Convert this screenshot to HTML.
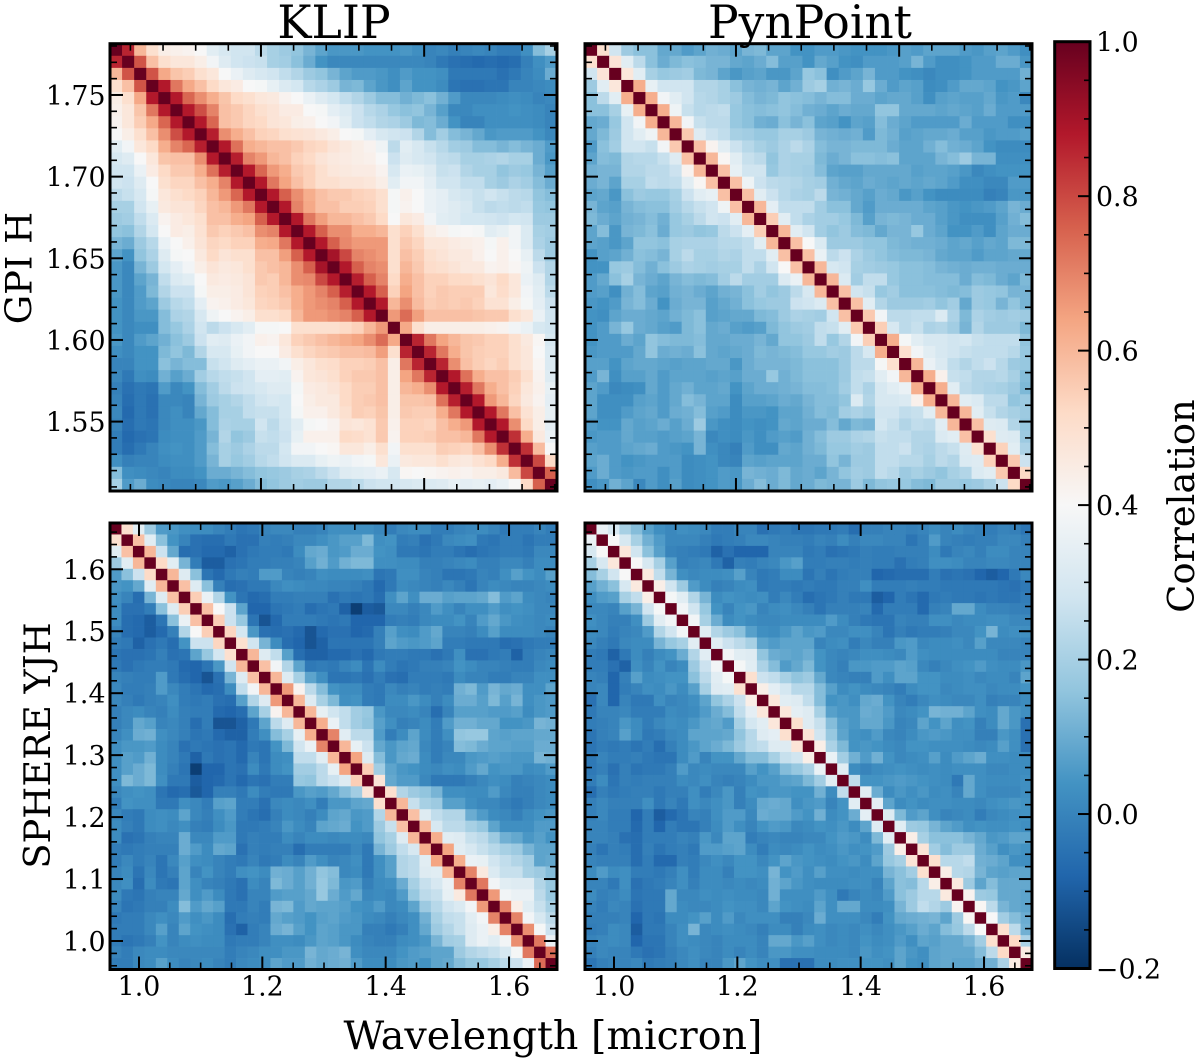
<!DOCTYPE html>
<html lang="en">
<head>
<meta charset="utf-8">
<title>Correlation matrices</title>
<style>
html,body{margin:0;padding:0;background:#fff;width:1200px;height:1063px;overflow:hidden}
svg{display:block;position:absolute;left:0;top:0}
text{font-family:"DejaVu Serif","Liberation Serif",serif;fill:#000}
.tick-label{font-size:26.8px}
</style>
</head>
<body>
<svg id="figure" xmlns="http://www.w3.org/2000/svg" width="1200" height="1063" viewBox="0 0 1200 1063">
  <defs>
    <linearGradient id="colorbar-gradient" x1="0" y1="1" x2="0" y2="0"></linearGradient>
  </defs>
  <g id="panels"></g>
  <g id="colorbar"></g>
  <text x="334" y="38" font-size="45.7" text-anchor="middle">KLIP</text>
  <text x="810" y="38" font-size="45.5" text-anchor="middle">PynPoint</text>
  <text transform="translate(31.5,268) rotate(-90)" font-size="36.8" text-anchor="middle">GPI H</text>
  <text transform="translate(50,745.5) rotate(-90)" font-size="36.8" text-anchor="middle">SPHERE YJH</text>
  <text x="553" y="1049" font-size="39.6" text-anchor="middle">Wavelength [micron]</text>
  <text transform="translate(1194,506) rotate(-90)" font-size="36.8" text-anchor="middle">Correlation</text>
</svg>
<script>
// Upper triangles (row i holds columns i..n-1), correlation x 100.
const klipGpi = [
[100,86,60,50,44,43,42,40,33,30,28,28,24,20,18,16,12,8,5,5,5,4,4,4,5,3,0,1,-1,0,1,0,-2,-2,3,14,20],
[100,78,58,50,47,47,44,38,32,28,27,26,20,19,15,10,4,1,1,1,1,1,1,1,1,0,-3,-5,-6,-7,-6,-7,-6,-1,3,6,16],
[100,78,63,57,55,50,47,40,36,32,30,28,25,22,18,16,12,8,6,6,5,3,6,4,4,3,-3,-3,-3,-3,-5,-3,0,2,10],
[100,88,72,63,58,52,47,45,40,39,35,31,29,23,21,18,12,13,8,5,3,8,4,4,2,-4,-5,-5,-4,-4,0,0,1,2],
[100,88,75,68,62,57,52,50,47,46,42,40,36,32,29,25,22,18,14,14,11,13,15,11,6,1,1,1,2,3,2,0,1],
[100,88,79,70,58,56,53,50,48,45,45,40,39,34,31,27,23,21,17,15,16,12,7,1,1,3,3,3,4,3,2,0],
[100,88,75,58,56,53,52,48,47,44,43,40,38,33,27,25,22,21,18,13,14,10,4,0,0,3,3,3,3,2,0],
[100,87,68,62,58,54,53,50,49,48,46,44,40,39,34,30,28,27,22,14,19,14,12,9,5,6,6,6,4,1],
[100,88,73,62,60,58,58,56,53,52,48,46,44,42,37,24,33,30,26,23,19,18,14,14,12,14,12,10,6],
[100,87,70,66,60,58,54,52,48,46,45,44,43,40,27,32,30,28,25,24,20,20,21,22,20,20,10,5],
[100,88,75,66,62,56,54,50,47,46,45,45,42,30,36,35,32,26,27,22,20,20,16,18,17,12,7],
[100,88,72,64,58,54,50,50,48,48,47,44,33,38,38,34,28,28,25,25,20,18,21,19,14,10],
[100,88,76,68,62,58,56,56,54,53,50,39,43,40,36,34,30,28,26,28,26,24,23,16,14],
[100,88,70,63,58,58,55,55,54,50,39,42,40,36,34,32,30,26,24,25,24,25,17,16],
[100,88,72,65,60,60,58,56,52,40,47,45,38,33,32,29,29,28,27,29,28,18,18],
[100,88,76,68,68,62,62,60,50,54,50,44,42,39,40,39,33,35,38,31,20,19],
[100,88,76,69,66,66,66,50,56,53,47,47,45,44,43,39,43,38,31,21,18],
[100,90,80,70,68,66,50,58,55,50,48,46,46,43,40,43,40,35,24,18],
[100,88,76,70,68,50,60,56,51,50,48,46,46,42,43,41,37,27,22],
[100,87,76,70,52,62,58,54,54,52,52,50,48,52,47,36,32,22],
[100,88,76,54,64,58,54,56,55,55,55,47,51,47,38,33,24],
[100,88,60,68,59,55,56,55,56,54,49,49,44,39,34,27],
[100,66,74,65,58,58,58,58,57,56,56,50,47,36,28],
[100,63,50,44,44,44,44,44,43,42,38,36,30,28],
[100,86,72,64,60,57,56,54,54,50,46,41,30],
[100,86,72,62,57,55,54,54,50,47,40,31],
[100,86,68,58,55,53,55,50,47,41,31],
[100,88,73,62,58,58,55,50,42,32],
[100,87,72,62,58,54,47,43,35],
[100,88,66,60,53,46,42,34],
[100,88,72,58,49,44,35],
[100,88,68,52,44,34],
[100,84,62,46,36],
[100,84,59,40],
[100,80,52],
[100,76],
[100]
];
const pynGpi = [
[100,50,28,18,15,15,9,9,6,8,11,10,8,12,13,8,8,4,4,6,6,5,4,4,4,5,7,6,8,8,8,6,5,7,8,6,3],
[100,48,33,24,15,10,13,15,14,12,12,9,8,10,14,7,7,4,9,7,4,3,6,6,6,7,12,6,3,3,4,6,6,10,10,5],
[100,47,33,20,17,18,19,13,12,8,5,7,8,5,5,8,17,15,3,6,8,12,6,6,4,3,1,3,3,4,6,6,6,6,11],
[100,62,35,28,28,28,22,22,20,15,12,11,12,8,11,18,20,11,12,10,17,10,6,8,7,2,3,6,9,9,8,4,5,8],
[100,62,38,33,28,23,22,20,18,14,12,13,16,15,14,12,14,14,10,10,8,9,9,7,3,7,8,7,7,9,5,6,1],
[100,62,37,26,23,24,25,17,15,14,15,16,14,11,10,8,10,9,9,16,16,9,9,9,8,9,8,7,10,6,6,6],
[100,60,38,26,24,24,17,15,11,10,15,12,15,8,7,4,8,7,14,10,8,6,6,6,6,10,6,6,6,3,3],
[100,56,32,27,25,20,19,17,17,20,20,18,12,11,10,11,6,13,11,7,8,9,9,10,7,7,5,6,6,7],
[100,58,42,33,27,23,20,18,21,24,21,14,12,12,13,13,13,10,8,8,11,14,11,10,8,4,2,2,2],
[100,60,41,33,26,24,16,21,20,20,13,10,12,15,15,14,15,8,8,8,12,14,18,12,12,3,3,3],
[100,58,35,28,28,17,21,20,19,14,8,7,7,9,9,9,9,7,8,8,7,5,1,3,4,4,4],
[100,58,37,27,24,23,22,20,19,11,9,8,10,9,8,9,8,9,8,6,3,3,1,1,6,6],
[100,58,33,27,23,21,20,24,12,11,9,7,10,9,5,7,4,2,2,2,2,-1,0,5,5],
[100,60,34,25,25,25,19,15,15,9,6,10,10,10,10,8,7,5,4,5,6,8,12,10],
[100,55,33,25,21,19,19,17,13,7,12,13,12,10,10,7,5,3,3,3,7,11,14],
[100,60,33,28,19,16,18,14,13,9,12,12,17,10,8,4,4,6,3,8,10,10],
[100,58,40,31,18,18,18,16,16,13,12,11,11,10,8,9,7,9,8,13,13],
[100,58,36,24,27,21,18,16,14,13,13,12,9,8,8,6,8,8,9,9],
[100,60,30,28,20,19,18,17,15,15,14,12,11,10,11,11,10,10,10],
[100,60,31,19,25,25,17,15,15,14,14,14,10,14,13,10,8,13],
[100,58,28,26,17,19,15,15,15,14,13,14,18,17,16,12,12],
[100,58,33,22,18,18,18,19,16,19,9,18,17,12,16,12],
[100,56,38,24,24,25,25,31,21,13,21,19,18,19,18],
[100,55,30,24,26,21,22,19,12,22,18,18,18,13],
[100,62,39,33,30,30,28,29,26,25,25,25,16],
[100,50,38,33,30,28,26,25,25,25,23,17],
[100,60,36,31,25,22,25,27,23,18,17],
[100,62,43,26,25,22,22,23,20,14],
[100,62,33,24,22,21,20,18,13],
[100,60,33,31,24,24,16,18],
[100,60,33,26,22,20,18],
[100,58,32,31,22,17],
[100,50,32,31,18],
[100,54,33,21],
[100,56,27],
[100,52],
[100]
];
const klipSphere = [
[100,50,33,18,6,5,3,2,2,0,-2,-4,-3,0,1,1,-1,-1,0,3,3,3,3,1,-2,1,2,2,-2,-2,0,1,2,0,-3,-2,-2,0,-2],
[100,58,33,15,4,0,-5,-6,-6,-3,-5,-5,-1,-2,-1,1,1,3,5,7,7,13,3,4,-2,-1,-5,-3,1,2,3,-3,-4,-2,-2,-4,-2,-2],
[100,60,27,9,-6,-5,-7,-7,-9,-5,-3,-2,-2,-3,2,9,10,5,6,10,10,4,3,-3,-3,-4,-2,-2,-4,-6,-4,-3,-2,-2,-3,1,1],
[100,52,33,12,-2,-10,-10,-5,-4,-2,-2,-1,-1,0,7,11,6,11,13,13,3,3,2,2,-1,-1,0,1,2,-1,-1,1,1,-1,2,2],
[100,60,32,15,-4,-7,-3,-1,-2,6,6,0,-1,0,3,2,2,2,3,-4,-3,3,3,0,-1,-4,-4,-3,0,-1,3,7,4,2,7],
[100,58,32,15,-1,-6,-5,-3,-3,1,3,2,1,1,0,0,-1,-3,-7,-3,2,1,0,-1,1,-1,-4,0,2,1,0,0,1,2],
[100,55,36,22,4,-4,-7,-6,-2,-2,-1,-1,-1,-5,-3,-4,-3,-6,3,8,3,10,10,7,8,8,9,14,6,8,2,1,0],
[100,58,40,27,8,-8,-8,-4,-3,-2,-6,-4,-3,-9,-17,-10,-11,1,1,-1,1,6,3,0,3,3,6,3,4,3,1,1],
[100,55,27,17,-4,-12,-7,-2,-2,-2,-3,-4,-3,-8,-8,-8,-2,-1,-2,1,2,2,4,0,6,9,5,3,2,1,2],
[100,53,29,5,-5,-6,-5,-7,-12,-7,-5,-5,-8,-7,-1,7,3,2,6,9,0,0,-1,2,7,2,2,2,1,0],
[100,50,28,12,2,-6,-8,-12,-9,-4,-4,-4,-4,-1,8,6,5,6,8,-2,-2,-3,-3,-3,-6,-5,-3,-2,-2],
[100,60,32,25,7,-6,-9,-9,-7,-7,-5,-7,-3,-2,-2,-3,-3,-5,-3,3,-5,-5,-3,-2,-9,-2,0,1],
[100,58,38,22,8,-3,-2,-3,0,2,-4,2,-2,-4,-3,-1,-1,0,4,2,0,0,-1,-2,-2,1,2],
[100,60,32,20,8,3,-4,-4,-3,-5,-2,-5,-6,-2,-2,-2,-3,2,0,0,-2,-2,0,0,3,3],
[100,66,42,24,14,4,2,2,-2,-3,1,-1,0,-2,-1,-2,11,13,6,12,9,10,3,3,8],
[100,60,32,20,13,3,4,-2,-3,2,2,5,2,-1,2,10,10,7,13,7,12,3,5,6],
[100,60,35,28,25,19,17,5,1,1,2,0,-6,0,7,7,7,6,6,7,2,5,6],
[100,62,36,25,19,16,7,3,-1,0,2,-2,6,11,11,9,9,4,4,5,12,11],
[100,70,33,24,24,6,-2,2,8,2,-2,3,16,17,17,8,7,8,8,9,9],
[100,60,35,27,9,5,8,9,1,-2,0,14,13,10,8,8,7,7,10,10],
[100,64,32,14,5,9,10,2,-2,1,1,5,6,7,6,5,5,12,11],
[100,55,19,8,5,4,2,1,3,2,6,9,4,5,5,2,3,6],
[100,48,9,6,6,1,-3,-3,-3,-1,1,3,2,-1,0,1,2],
[100,50,22,18,16,12,3,3,2,2,6,1,-1,-1,1,2],
[100,60,26,20,18,7,7,3,1,1,-1,-3,-1,1,2],
[100,58,32,25,22,22,10,6,2,1,-1,2,4,5],
[100,60,30,24,24,20,17,8,3,3,3,6,6],
[100,62,33,32,26,24,18,11,9,5,7,4],
[100,64,33,30,26,23,20,18,12,8,8],
[100,62,36,35,28,25,22,19,8,9],
[100,70,46,31,26,26,20,18,14],
[100,72,38,33,32,32,22,17],
[100,66,38,36,36,24,17],
[100,70,44,33,26,20],
[100,70,38,30,24],
[100,68,39,27],
[100,72,36],
[100,74],
[100]
];
const pynSphere = [
[100,36,30,20,14,7,3,1,3,2,1,-2,-2,0,0,-5,-3,-2,-4,-4,-3,-3,-2,-6,-1,-1,0,0,-1,0,2,0,2,0,-1,-2,0,-1,-4],
[100,40,30,20,11,6,1,1,1,-1,-3,-2,-1,1,1,0,-1,-1,-2,0,-1,2,-1,1,1,0,0,-4,-1,6,0,-1,-2,-1,-1,1,1,-1],
[100,47,28,15,7,0,-1,-2,-3,-9,-5,-8,-8,-8,0,0,0,-3,-2,-5,-4,-3,-1,-2,-2,-1,-1,-1,2,-3,0,1,-1,2,2,0,0],
[100,40,30,20,7,-1,0,1,-3,-9,-1,-2,0,1,5,7,-2,-2,-1,-1,-2,-1,-2,-2,-5,-2,-1,3,3,2,0,0,1,1,0,0],
[100,46,25,12,3,1,2,2,3,7,0,-3,-2,2,2,-4,-1,-4,-2,-1,-1,-8,-7,-6,-6,-6,-2,-5,-4,-5,-8,-10,-8,-3,1],
[100,44,28,18,6,2,-1,0,2,3,-3,-2,-2,-3,-2,-3,-3,-1,-1,3,-2,-2,-2,-1,-2,-2,-3,-3,-3,-3,-3,-4,-5,-3],
[100,39,33,22,12,2,4,3,2,3,-2,1,-2,-6,-4,-3,-1,-3,-3,-10,-8,-2,-4,-7,-3,-2,-3,-3,-4,-3,-4,-4,-2],
[100,38,28,17,4,0,4,5,0,2,3,1,-1,-4,-1,-1,-1,0,-7,-2,-2,-2,-7,-1,0,9,9,2,0,0,-1,-1],
[100,38,20,10,2,4,2,1,1,2,2,2,2,6,2,-1,-3,-4,-4,0,-1,-1,3,3,1,2,2,3,3,1,1],
[100,33,22,18,15,7,3,2,5,8,5,6,1,1,3,3,0,-4,-1,-3,-2,-2,-1,1,1,4,12,2,3,3],
[100,33,27,24,20,8,6,8,8,8,0,2,3,-2,1,-1,-1,5,6,1,2,2,3,1,7,1,1,1,0],
[100,38,33,32,16,10,9,8,10,4,1,0,1,3,3,2,1,6,3,2,2,2,2,2,2,0,0,0],
[100,39,33,21,14,6,9,13,4,1,-1,5,5,6,6,8,7,1,-1,1,3,4,6,3,2,2,5],
[100,50,27,25,20,16,18,9,1,0,-1,-1,6,3,8,8,4,4,2,2,3,1,2,2,0,8],
[100,44,34,29,23,23,14,7,2,4,2,1,0,-2,2,4,4,1,2,3,3,1,2,2,4],
[100,47,33,32,25,14,4,5,3,9,10,4,0,-2,1,3,2,1,1,3,-1,0,0,2],
[100,47,34,32,20,7,5,5,10,9,6,1,2,4,12,11,11,8,3,2,9,5,3],
[100,50,32,26,14,7,5,9,9,5,0,1,8,4,8,3,4,-1,2,9,5,-5],
[100,48,28,17,8,4,3,6,1,0,2,5,6,5,3,3,-1,-1,5,3,-5],
[100,44,21,13,4,5,4,2,1,4,4,3,3,3,2,1,2,7,3,-5],
[100,36,19,11,6,11,4,1,2,3,7,2,6,8,10,3,3,2,2],
[100,33,2,0,2,3,4,3,2,3,2,3,3,3,1,1,2,2],
[100,25,4,4,5,6,5,4,3,2,-3,9,3,2,2,2,3],
[100,33,10,2,5,3,5,2,3,0,9,3,1,1,1,3],
[100,34,8,2,4,2,3,3,2,2,1,3,4,5,4],
[100,32,13,6,8,3,0,1,2,-2,1,2,3,4],
[100,33,18,17,12,8,6,3,4,3,3,4,3],
[100,44,20,15,15,15,12,9,5,6,8,8],
[100,48,19,14,18,18,10,7,3,5,4],
[100,50,23,23,25,11,10,8,3,3],
[100,44,23,22,12,8,7,8,8],
[100,46,18,8,14,9,9,9],
[100,42,18,17,9,9,8],
[100,41,24,12,9,8],
[100,40,19,14,10],
[100,50,24,11],
[100,52,21],
[100,45],
[100]
];

// Tick values and labels
const gpiXMajorTicks = [1.6, 1.7];
const gpiXMinorTicks = [1.52,1.54,1.56,1.58,1.62,1.64,1.66,1.68,1.72,1.74,1.76,1.78];
const gpiYMajorTicks = [1.55, 1.6, 1.65, 1.7, 1.75];
const gpiYLabels = ["1.55", "1.60", "1.65", "1.70", "1.75"];
const gpiYMinorTicks = [1.51,1.52,1.53,1.54,1.56,1.57,1.58,1.59,1.61,1.62,1.63,1.64,1.66,1.67,1.68,1.69,1.71,1.72,1.73,1.74,1.76,1.77,1.78];
const sphereXMajorTicks = [1.0, 1.2, 1.4, 1.6];
const sphereXLabels = ["1.0", "1.2", "1.4", "1.6"];
const sphereXMinorTicks = [1.05,1.1,1.15,1.25,1.3,1.35,1.45,1.5,1.55,1.65];
const sphereYMajorTicks = [1.0, 1.1, 1.2, 1.3, 1.4, 1.5, 1.6];
const sphereYLabels = ["1.0", "1.1", "1.2", "1.3", "1.4", "1.5", "1.6"];
const sphereYMinorTicks = [0.96,0.98,1.02,1.04,1.06,1.08,1.12,1.14,1.16,1.18,1.22,1.24,1.26,1.28,1.32,1.34,1.36,1.38,1.42,1.44,1.46,1.48,1.52,1.54,1.56,1.58,1.62,1.64,1.66];
const colorbarMajorTicks = [-0.2, 0, 0.2, 0.4, 0.6, 0.8, 1.0];
const colorbarLabels = ["\u22120.2", "0.0", "0.2", "0.4", "0.6", "0.8", "1.0"];
const colorbarMinorTicks = [-0.15,-0.1,-0.05,0.05,0.1,0.15,0.25,0.3,0.35,0.45,0.5,0.55,0.65,0.7,0.75,0.85,0.9,0.95];
const colormapStops = ["#053061","#2166ac","#4393c3","#92c5de","#d1e5f0","#f7f7f7","#fddbc7","#f4a582","#d6604d","#b2182b","#67001f"];
const colorDomain = [-0.2, 1.0];

const NS = "http://www.w3.org/2000/svg";
const panelsGroup = document.getElementById("panels");
const colorbarGroup = document.getElementById("colorbar");

function hexToRgb(h){return [parseInt(h.substr(1,2),16),parseInt(h.substr(3,2),16),parseInt(h.substr(5,2),16)];}
function colorScale(v){
  let t = (v - colorDomain[0]) / (colorDomain[1] - colorDomain[0]);
  t = Math.max(0, Math.min(1, t)) * (colormapStops.length - 1);
  const i = Math.min(Math.floor(t), colormapStops.length - 2);
  const f = t - i;
  const a = hexToRgb(colormapStops[i]), b = hexToRgb(colormapStops[i + 1]);
  return "rgb(" + Math.round(a[0]+(b[0]-a[0])*f) + "," + Math.round(a[1]+(b[1]-a[1])*f) + "," + Math.round(a[2]+(b[2]-a[2])*f) + ")";
}
function linear(d0, d1, r0, r1){ return function(v){ return r0 + (v - d0) / (d1 - d0) * (r1 - r0); }; }

function matrixValue(tri, i, j){
  const a = Math.min(i, j), b = Math.max(i, j);
  const row = tri[a] || [];
  const v = row[b - a];
  return v === undefined ? 5 : v;
}
function drawCells(parent, tri, box){
  const n = tri.length;
  const cw = (box.x1 - box.x0) / n, ch = (box.y1 - box.y0) / n;
  for (let i = 0; i < n; i++) {
    for (let j = 0; j < n; j++) {
      const r = document.createElementNS(NS, "rect");
      
      
      r.setAttribute("x", box.x0 + j * cw);
      r.setAttribute("y", box.y0 + i * ch);
      r.setAttribute("width", cw + 0.35);
      r.setAttribute("height", ch + 0.35);
      r.setAttribute("fill", colorScale(matrixValue(tri, i, j) / 100));
      parent.appendChild(r);
    }
  }
}
function drawLine(parent, x1, y1, x2, y2, w){
  const l = document.createElementNS(NS, "line");
  
  
  l.setAttribute("x1", x1); l.setAttribute("y1", y1);
  l.setAttribute("x2", x2); l.setAttribute("y2", y2);
  l.setAttribute("stroke", "#000");
  l.setAttribute("stroke-width", w);
  parent.appendChild(l);
}
function drawLabel(parent, x, y, str, anchor){
  const t = document.createElementNS(NS, "text");
  
  
  t.setAttribute("class", "tick-label");
  t.setAttribute("x", x);
  t.setAttribute("y", y);
  t.setAttribute("text-anchor", anchor);
  t.textContent = str;
  parent.appendChild(t);
}
function drawPanel(cfg){
  const g = document.createElementNS(NS, "g");
  
  
  panelsGroup.appendChild(g);
  const b = cfg.box;
  drawCells(g, cfg.values, b);
  const xs = linear(cfg.xDomain[0], cfg.xDomain[1], b.x0, b.x1);
  const ys = linear(cfg.yDomain[0], cfg.yDomain[1], b.y1, b.y0);
  const MAJ = 13, MIN = 7;
  cfg.xMajor.forEach(function(v){
    drawLine(g, xs(v), b.y0, xs(v), b.y0 + MAJ, 2);
    drawLine(g, xs(v), b.y1, xs(v), b.y1 - MAJ, 2);
  });
  cfg.xMinor.forEach(function(v){
    drawLine(g, xs(v), b.y0, xs(v), b.y0 + MIN, 1.6);
    drawLine(g, xs(v), b.y1, xs(v), b.y1 - MIN, 1.6);
  });
  cfg.yMajor.forEach(function(v){
    drawLine(g, b.x0, ys(v), b.x0 + MAJ, ys(v), 2);
    drawLine(g, b.x1, ys(v), b.x1 - MAJ, ys(v), 2);
  });
  cfg.yMinor.forEach(function(v){
    drawLine(g, b.x0, ys(v), b.x0 + MIN, ys(v), 1.6);
    drawLine(g, b.x1, ys(v), b.x1 - MIN, ys(v), 1.6);
  });
  if (cfg.xLabels) cfg.xMajor.forEach(function(v, k){ drawLabel(g, xs(v), b.y1 + 26, cfg.xLabels[k], "middle"); });
  if (cfg.yLabels) cfg.yMajor.forEach(function(v, k){ drawLabel(g, b.x0 - 4.5, ys(v) + 10, cfg.yLabels[k], "end"); });
  const frame = document.createElementNS(NS, "rect");
  
  
  frame.setAttribute("x", b.x0);
  frame.setAttribute("y", b.y0);
  frame.setAttribute("width", b.x1 - b.x0);
  frame.setAttribute("height", b.y1 - b.y0);
  frame.setAttribute("fill", "none");
  frame.setAttribute("stroke", "#000");
  frame.setAttribute("stroke-width", 3);
  g.appendChild(frame);
}

const gpiDomain = [1.5075, 1.7814];
const sphereXDomain = [0.953, 1.6778];
const sphereYDomain = [0.954, 1.6747];

drawPanel({name:"klip-gpi-heatmap", values:klipGpi, box:{x0:110,x1:557,y0:43.7,y1:491},
  xDomain:gpiDomain, yDomain:gpiDomain, xMajor:gpiXMajorTicks, xMinor:gpiXMinorTicks,
  yMajor:gpiYMajorTicks, yMinor:gpiYMinorTicks, yLabels:gpiYLabels});
drawPanel({name:"pynpoint-gpi-heatmap", values:pynGpi, box:{x0:585,x1:1032,y0:43.7,y1:491},
  xDomain:gpiDomain, yDomain:gpiDomain, xMajor:gpiXMajorTicks, xMinor:gpiXMinorTicks,
  yMajor:gpiYMajorTicks, yMinor:gpiYMinorTicks});
drawPanel({name:"klip-sphere-heatmap", values:klipSphere, box:{x0:110,x1:557,y0:523,y1:969.5},
  xDomain:sphereXDomain, yDomain:sphereYDomain, xMajor:sphereXMajorTicks, xMinor:sphereXMinorTicks,
  yMajor:sphereYMajorTicks, yMinor:sphereYMinorTicks, xLabels:sphereXLabels, yLabels:sphereYLabels});
drawPanel({name:"pynpoint-sphere-heatmap", values:pynSphere, box:{x0:585,x1:1032,y0:523,y1:969.5},
  xDomain:sphereXDomain, yDomain:sphereYDomain, xMajor:sphereXMajorTicks, xMinor:sphereXMinorTicks,
  yMajor:sphereYMajorTicks, yMinor:sphereYMinorTicks, xLabels:sphereXLabels});

// Colorbar
(function(){
  const grad = document.getElementById("colorbar-gradient");
  colormapStops.forEach(function(c, i){
    const s = document.createElementNS(NS, "stop");
    s.setAttribute("offset", i / (colormapStops.length - 1));
    s.setAttribute("stop-color", c);
    grad.appendChild(s);
  });
  const box = {x0:1054.7, x1:1090, y0:41.7, y1:968.5};
  const ys = linear(colorDomain[0], colorDomain[1], box.y1, box.y0);
  const bar = document.createElementNS(NS, "rect");
  
  
  bar.setAttribute("x", box.x0);
  bar.setAttribute("y", box.y0);
  bar.setAttribute("width", box.x1 - box.x0);
  bar.setAttribute("height", box.y1 - box.y0);
  bar.setAttribute("fill", "url(#colorbar-gradient)");
  bar.setAttribute("stroke", "#000");
  bar.setAttribute("stroke-width", 3);
  colorbarGroup.appendChild(bar);
  colorbarMajorTicks.forEach(function(v, k){
    drawLine(colorbarGroup, box.x1, ys(v), box.x1 - 12, ys(v), 2);
    drawLabel(colorbarGroup, box.x1 + 6, ys(v) + 10, colorbarLabels[k], "start");
  });
  colorbarMinorTicks.forEach(function(v){
    drawLine(colorbarGroup, box.x1, ys(v), box.x1 - 6, ys(v), 1.6);
  });
})();
</script>
</body>
</html>
